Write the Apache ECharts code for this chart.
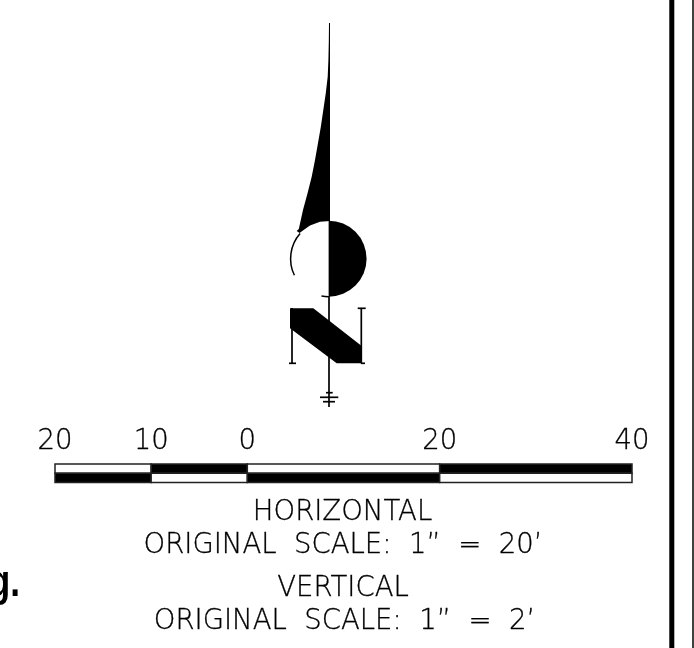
<!DOCTYPE html>
<html><head><meta charset="utf-8">
<style>html,body{margin:0;padding:0;background:#fff}#c{width:694px;height:648px}</style>
<script src="https://cdn.jsdelivr.net/npm/echarts@6/dist/echarts.min.js"></script>
</head><body><div id="c"></div>
<script>
// Scale bar (feet along the bar)
const scaleTicks = [-20, -10, 0, 20, 40];
const scaleLabels = {'-20':'20','-10':'10','0':'0','20':'20','40':'40'};
const scaleTop    = [[-20,-10,'#fff'],[-10,0,'#000'],[0,20,'#fff'],[20,40,'#000']];
const scaleBottom = [[-20,-10,'#000'],[-10,0,'#fff'],[0,20,'#000'],[20,40,'#fff']];
// North arrow outline, in drawing units
const needle = [[329,23],[330,23],[330,221],[320,221.7],[310,225.6],[305,228.9],[299.5,233],[296.7,231],[298.8,229],[303,210],[307.6,193],[311.7,176.7],[315,160],[318,143],[320.8,127],[323.3,110],[325.8,93],[327.7,76.7],[328.4,60],[328.8,42]];
const circle = {cx:328.6, cy:258.7, r:38};
const nDiagonal = [[290,308.3],[313.3,308.3],[361.7,346],[361.7,363.3],[336.7,363.3],[290,328.3]];
const nStrokes = [
 [[292,308],[292,363.3]],[[289,363.3],[296,363.3]],
 [[361.3,308],[361.3,363.3]],[[357.7,308.3],[365.7,308.3]],[[361,363.3],[365,363.3]],
 [[329,296],[329,407]],[[326,392.7],[332.7,392.7]],[[320,397.3],[338.3,397.3]],[[323,401.7],[335,401.7]]
];
const textLines = [
 ['HORIZONTAL',342.5,513],
 ['ORIGINAL  SCALE:  1”  =  20’',343,546],
 ['VERTICAL',343,589],
 ['ORIGINAL  SCALE:  1”  =  2’',344.5,622]
];
const frameLines = [[671.8,5],[693,1.5]];
const clipped = ['g.'];

const W=694,H=648;
const poly=(pts,fill)=>({type:'polygon',shape:{points:pts},style:{fill}});
const chart=echarts.init(document.getElementById('c'),null,{renderer:'canvas'});
const font='"DejaVu Sans Light","DejaVu Sans ExtraLight","DejaVu Sans"';
chart.setOption({
 animation:false,backgroundColor:'#fff',
 grid:[
  {left:0,top:0,width:W,height:H,show:false},
  {left:55,top:464,width:577,height:18.6,show:false}
 ],
 xAxis:[
  {gridIndex:0,type:'value',min:0,max:W,show:false},
  {gridIndex:1,type:'value',min:-20,max:40,interval:10,position:'top',
   axisLine:{show:false},axisTick:{show:false},splitLine:{show:false},
   axisLabel:{show:true,margin:8,fontFamily:font,fontWeight:200,fontSize:27.5,color:'#000',hideOverlap:false,
     textBorderColor:'#000',textBorderWidth:0.3,
     formatter:v=>scaleLabels[v]||''}}
 ],
 yAxis:[
  {gridIndex:0,type:'value',min:0,max:H,inverse:true,show:false},
  {gridIndex:1,type:'category',data:['top','bottom'],inverse:true,show:false}
 ],
 series:[
  {type:'custom',xAxisIndex:0,yAxisIndex:0,data:[[0]],silent:true,z:2,clip:false,
   renderItem:(p,api)=>{
    const c=q=>api.coord(q);
    const [cx,cy]=c([circle.cx,circle.cy]);
    const r=api.size([circle.r,0])[0];
    const kids=[
     poly(needle.map(c),'#000'),
     {type:'sector',shape:{cx,cy,r,r0:0,startAngle:-Math.PI/2,endAngle:Math.PI/2},style:{fill:'#000'}},
     {type:'arc',shape:{cx,cy,r,startAngle:Math.PI*1.23,endAngle:Math.PI*0.857,clockwise:false},style:{stroke:'#000',fill:null,lineWidth:1.5}},
     {type:'arc',shape:{cx,cy,r,startAngle:Math.PI*0.5,endAngle:Math.PI*0.56,clockwise:true},style:{stroke:'#000',fill:null,lineWidth:1.5}},
     poly(nDiagonal.map(c),'#000')
    ];
    nStrokes.forEach(s=>{const a=c(s[0]),b=c(s[1]);
      kids.push({type:'line',shape:{x1:a[0],y1:a[1],x2:b[0],y2:b[1]},style:{stroke:'#000',lineWidth:1.7}});});
    frameLines.forEach(f=>{const a=c([f[0],0]),b=c([f[0],H]);
      kids.push({type:'line',shape:{x1:a[0],y1:a[1],x2:b[0],y2:b[1]},style:{stroke:'#000',lineWidth:f[1]}});});
    return {type:'group',children:kids};
   }},
  {type:'custom',xAxisIndex:1,yAxisIndex:1,z:3,silent:true,clip:false,
   data:[...scaleTop.map(s=>[s[0],s[1],0,s[2]]),...scaleBottom.map(s=>[s[0],s[1],1,s[2]])],
   dimensions:['a','b','row','fill'],encode:{x:[0,1],y:2},
   renderItem:(p,api)=>{
    const a=api.coord([api.value(0),api.value(2)]),b=api.coord([api.value(1),api.value(2)]);
    const h=api.size([0,1])[1];
    return {type:'rect',shape:{x:a[0],y:a[1]-h/2,width:b[0]-a[0],height:h},
      style:{fill:scaleFill(p.dataIndex),stroke:'#222',lineWidth:1.5}};
   }},
  {type:'custom',xAxisIndex:0,yAxisIndex:0,z:4,silent:true,
   data:textLines.map(t=>[t[1],t[2]]),
   renderItem:(p,api)=>{
    const c=api.coord([api.value(0),api.value(1)]);
    return {type:'text',x:c[0],y:c[1],style:{text:textLines[p.dataIndex][0],font:'200 27.5px '+font,fill:'#000',stroke:'#000',lineWidth:0.3,align:'center',verticalAlign:'middle'}};
   }},
  {type:'custom',xAxisIndex:0,yAxisIndex:0,z:4,silent:true,clip:false,
   data:[[20,583.5]],
   renderItem:(p,api)=>{
    const c=api.coord([api.value(0),api.value(1)]);
    return {type:'text',x:c[0],y:c[1],scaleX:0.8,style:{text:clipped[0],font:'bold 44px "Liberation Sans"',fill:'#000',align:'right',verticalAlign:'middle'}};
   }}
 ]
});
function scaleFill(i){return [...scaleTop,...scaleBottom][i][2];}
</script></body></html>
